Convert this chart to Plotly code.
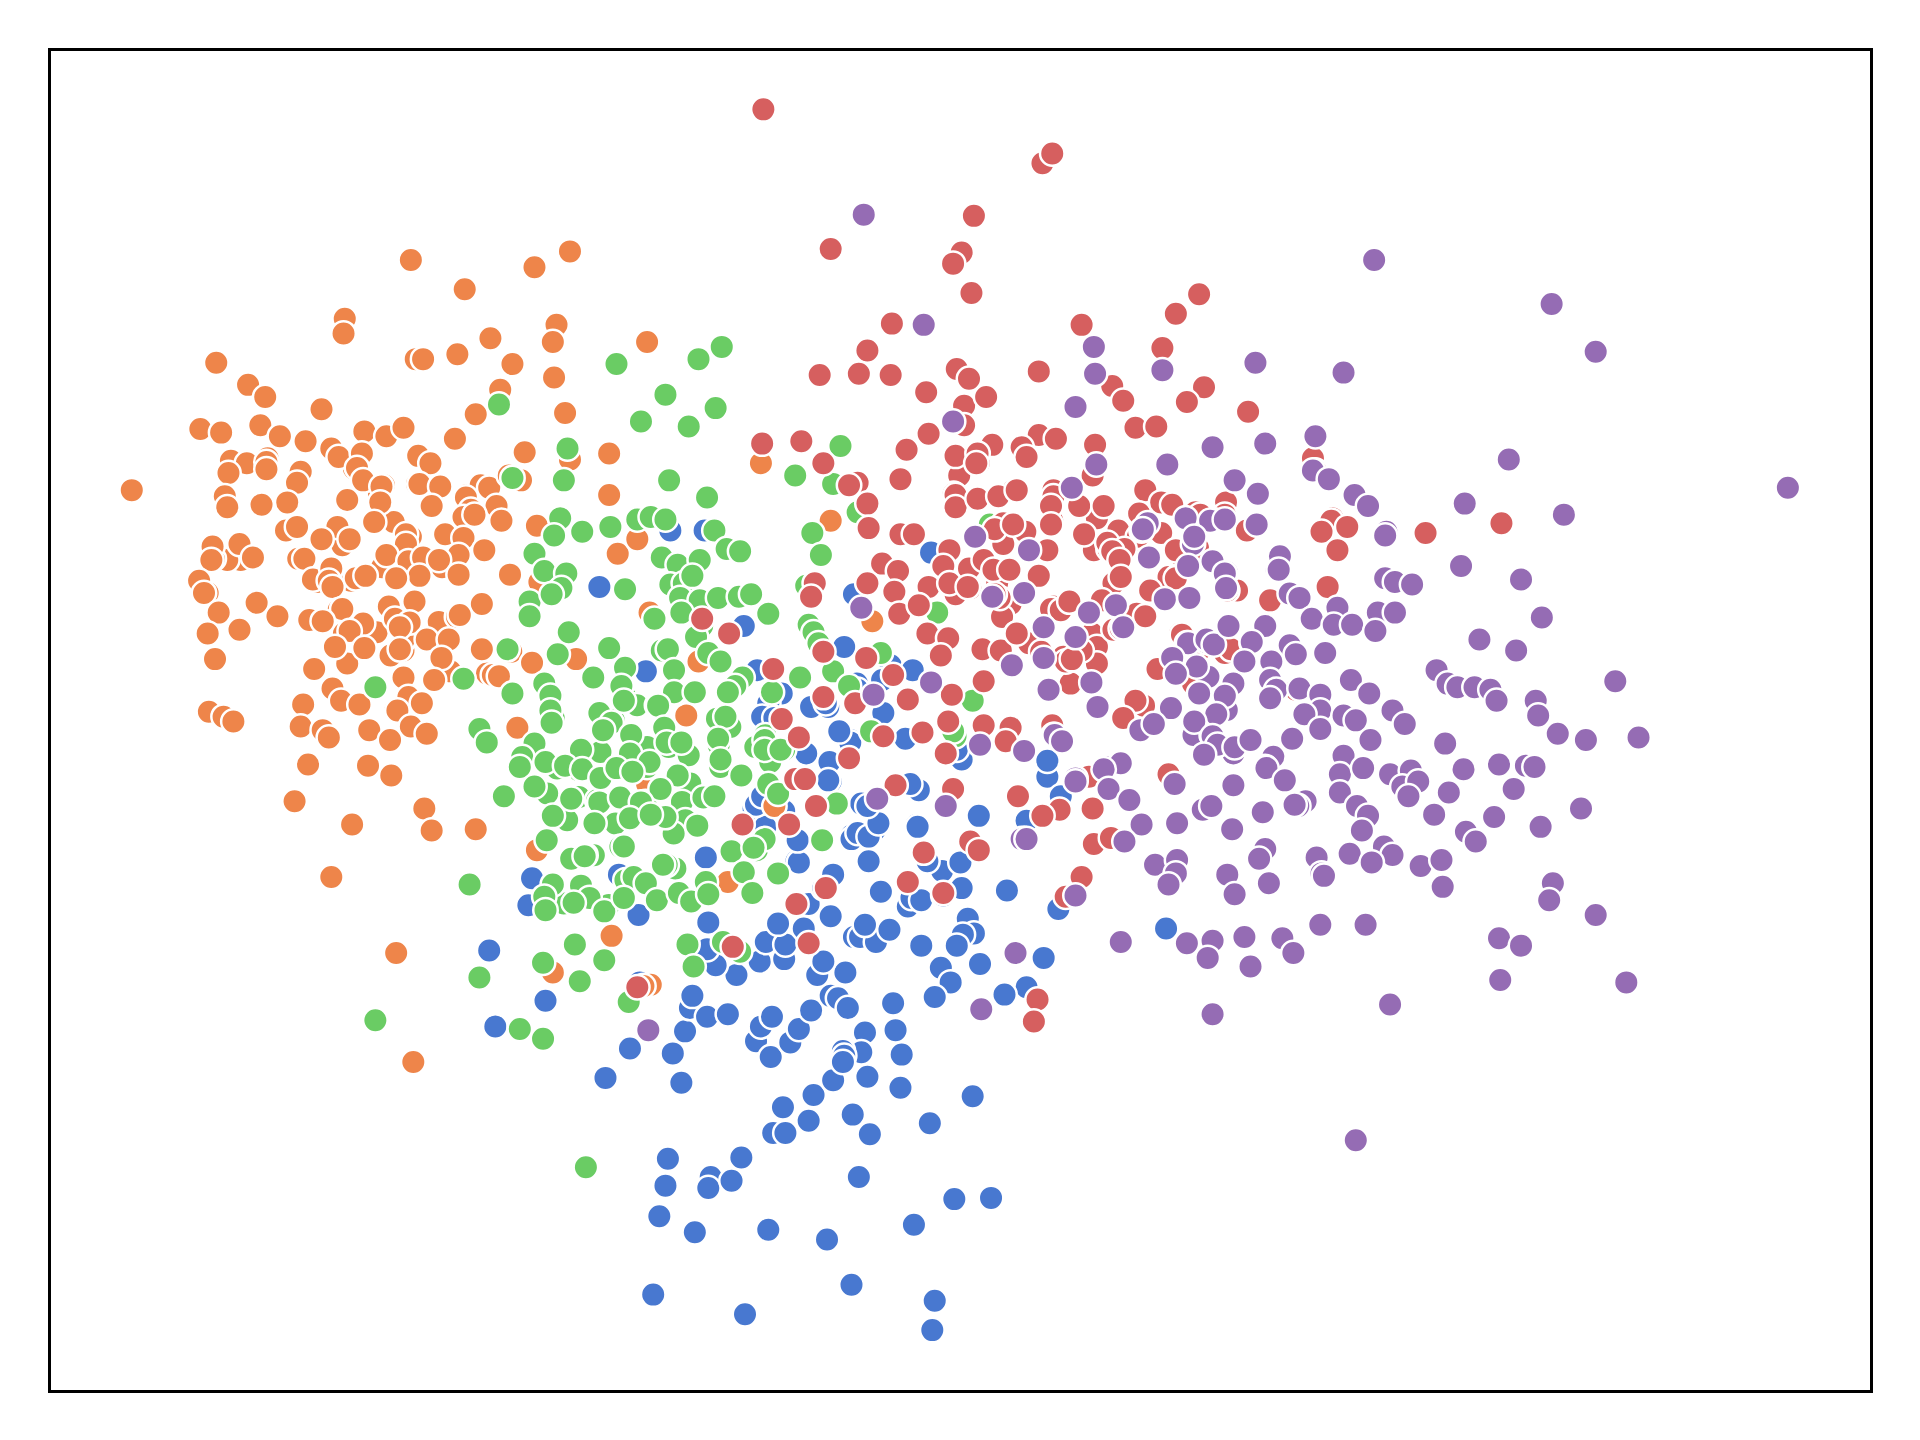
import plotly.graph_objects as go

# Point positions (x, y in picture units)
orange_under = [(200,377),(246,384),(218,374),(288.5,382.4),(313,396),(309,404),(321,426),(286,441),(279,445),(335,438),(346,454.5),(360.5,463),(311.5,463),(286,474),(258.5,475),(292.5,510),(280.3,517),(307,516),(329,531),(329,522.5),(318.4,535),(283,541.6),(367.3,522.5),(357.8,507.6),(372.7,503.5),(359,537.5),(367.3,548),(344,574),(322.4,579.6),(348.3,598.7),(318.4,604),(397.2,549.7),(404,411),(381,404),(391.8,394.7),(425.8,392),(340,371.6),(340,395),(196,457),(185,457),(174,456),(169,484)]

orange = [(107,400),(335,212),(436,218),(465,205),(379,236),(281,260),(280,272),(454,265),(451,279),(528,279),(400,276),(373,289),(339,293),(345,293),(418,297),(176,296),(452,308),(202,314),(216,324),(408,318),(262,334),(461,337),(388,338),(212,347),(163,350),(180,353),(228,356),(249,360),(297,352),(315,356),(329,349),(371,358),(270,366),(276,373),(188,376),(201,378),(217,377),(186,386),(217,383),(245,385),(242,394),(295,370),(291,382),(296,392),(311,397),(341,372),(351,378),(342,395),(359,397),(392,396),(399,398),(415,388),(425,392),(428,369),(497,370),(465,375),(621,378),(497,404),(183,405),(185,414),(213,412),(234,410),(283,408),(310,410),(305,426),(352,413),(380,406),(384,416),(405,413),(378,422),(387,420),(409,425),(438,429),(678,425),(233,433),(242,430),(275,430),(285,440),(262,440),(331,436),(331,444),(363,436),(378,439),(395,449),(173,446),(195,444),(172,457),(206,455),(243,456),(248,456),(315,453),(333,458),(345,455),(374,453),(358,457),(342,470),(374,469),(416,469),(504,452),(520,440),(162,474),(166,484),(255,473),(270,464),(268,474),(271,479),(290,472),(298,470),(323,472),(440,475),(178,500),(209,492),(226,503),(276,498),(279,497),(338,491),(317,495),(393,493),(375,502),(252,506),(263,507),(169,517),(195,514),(296,509),(322,505),(334,508),(285,515),(326,512),(326,530),(348,522),(366,522),(273,528),(297,529),(360,537),(393,530),(417,532),(434,541),(470,538),(175,538),(256,546),(329,553),(354,555),(402,551),(407,552),(271,562),(278,572),(293,575),(247,575),(333,569),(344,574),(324,580),(335,593),(170,581),(182,585),(190,589),(245,593),(263,596),(268,602),(301,596),(318,604),(348,599),(422,594),(251,624),(300,625),(319,633),(240,654),(346,660),(287,673),(352,678),(388,677),(270,716),(438,694),(323,778),(337,867),(451,794),(499,764),(531,804),(525,805),(594,720),(632,658),(560,584),(570,540),(530,500),(712,507),(528,640)]

green_under = [(450.5,567.5),(451.8,586.6),(489.9,581.1),(500.8,588),(510.3,568.9),(519.8,575.7),(536.1,575.7),(551.1,566.2),(585.1,586.6),(596,593.4),(528,609.7),(514.4,616.5),(489.9,613.8),(472.2,628.7),(454.5,627.4),(446.4,647.8),(462.7,669.5),(472.2,650.5),(488.5,635.5),(487.2,653.2),(502.1,672.3),(528,626),(545.7,609.7),(562,616.5),(563.3,639.6),(556.5,654.6),(526.6,654.6),(559.3,669.5),(549.7,680.4),(586.5,608.3),(587.8,626),(624.5,600.2),(628.6,622),(616.4,609.7),(506.2,691.3),(484.5,698.1),(477.7,698.1),(617.7,694),(551.1,709),(536.1,734.8),(510.3,718.5),(460,737.5),(578.3,730.7),(575.6,719.9),(496.7,738.9)]

green = [(589,283),(570,293),(503,297),(543,322),(407,330),(584,333),(523,344),(562,348),(463,366),(686,364),(418,390),(460,392),(546,392),(649,388),(680,395),(577,406),(700,418),(457,423),(520,424),(531,422),(543,424),(475,434),(452,437),(498,430),(583,433),(663,435),(593,448),(604,450),(436,452),(444,466),(462,468),(458,480),(540,455),(553,461),(571,457),(547,477),(670,453),(510,481),(558,476),(565,470),(432,491),(450,485),(432,503),(555,488),(571,490),(586,488),(603,487),(613,485),(627,501),(658,478),(534,505),(556,500),(464,516),(573,511),(660,510),(664,516),(568,520),(668,525),(414,530),(455,534),(497,529),(540,531),(545,530),(578,533),(588,540),(484,553),(510,545),(550,547),(606,553),(600,560),(653,553),(680,548),(719,533),(306,561),(378,554),(418,566),(444,558),(507,560),(509,572),(550,565),(567,565),(594,565),(449,568),(630,565),(537,576),(489,582),(499,590),(449,580),(592,585),(794,572),(450,590),(391,595),(397,606),(492,596),(515,600),(542,594),(544,606),(514,615),(474,612),(436,607),(426,618),(445,622),(556,606),(586,603),(624,604),(640,612),(711,597),(780,601),(424,626),(461,625),(475,628),(490,635),(503,627),(530,622),(553,633),(516,630),(588,620),(605,633),(624,612),(637,612),(627,640),(635,648),(411,650),(436,642),(466,652),(489,655),(506,651),(539,644),(523,655),(574,651),(583,650),(451,666),(485,672),(514,668),(543,667),(569,674),(531,665),(683,656),(446,686),(509,691),(597,695),(624,685),(671,686),(466,701),(477,699),(544,706),(517,716),(527,721),(541,706),(576,720),(615,692),(607,712),(635,713),(383,722),(451,722),(474,723),(481,733),(468,737),(444,732),(445,743),(493,744),(509,733),(536,735),(554,729),(564,736),(578,730),(614,729),(469,771),(561,771),(590,769),(604,777),(443,786),(493,784),(391,798),(473,801),(513,818),(306,833),(424,840),(443,848),(478,953),(566,789),(765,500),(693,560),(808,428),(778,597)]

blue_extra = [(618,547),(638,566),(727,543),(699.4,558),(664,577),(676,577),(721,582),(686,596),(694,604),(678,622),(678,638),(658.6,616),(615,660),(624.6,675),(748,645),(703.4,656),(748,673.5),(695,682),(707.5,682),(714,677.6)]

blue = [(399,776),(404,838),(445,817),(494,880),(514,856),(549,860),(556,884),(545,946),(543,968),(580,961),(578,970),(597,964),(605,945),(631,925),(641,925),(660,915),(639,904),(664,894),(680,882),(696,910),(710,926),(708,879),(735,888),(736,861),(759,917),(794,895),(701,961),(779,979),(809,978),(746,1000),(675,1012),(627,1004),(567,1006),(538,993),(533,1057),(608,1073),(695,1049),(763,1062),(761,1086),(559,842),(563,823),(565,813),(577,830),(594,828),(617,850),(621,838),(630,830),(629,863),(645,851),(652,840),(662,825),(678,813),(684,815),(692,823),(706,843),(731,841),(729,819),(703,859),(688,858),(689,862),(688,867),(667,796),(690,794),(672,785),(601,796),(584,788),(620,785),(640,783),(625,769),(641,771),(635,754),(656,758),(578,753),(577,775),(697,765),(702,765),(715,769),(726,759),(706,755),(678,748),(660,738),(672,725),(680,714),(719,728),(741,740),(744,733),(752,735),(770,731),(785,725),(790,750),(795,762),(786,763),(781,772),(768,790),(800,787),(776,802),(763,814),(752,772),(822,727),(852,782),(838,806),(820,812),(864,742),(952,758),(434,717),(431,739),(505,714),(521,747),(522,802),(576,700),(650,703),(652,704),(651,686),(640,662),(617,657),(622,650),(695,685),(700,680),(709,683),(709,703),(717,672),(703,656),(708,658),(749,675),(750,645),(743,640),(769,711),(784,704),(799,666),(757,703),(855,634),(855,621),(838,670),(836,685),(866,650),(785,620),(781,612),(739,603),(694,606),(685,597),(658,615),(677,622),(676,637),(662,577),(674,574),(627,574),(622,585),(632,586),(700,563),(721,582),(720,555),(745,547),(689,528),(607,511),(527,548),(489,479),(547,433),(575,433),(697,485),(760,451)]

red_under = [(799,378),(783,388),(778.5,403),(827.5,400),(819,427),(819,444),(837,434),(855,449),(814,476),(825,493),(792,480),(791,464),(776,449),(758,479),(749,494),(818,503.5),(830,517),(840,525),(816.6,531),(860,400),(859,425),(902,414),(895.5,423),(893,449),(905,448),(925,444),(929.5,418),(948.5,435.5),(950,411),(976,418),(965,454.5),(954,471),(961,471),(939,482),(909,476),(899.6,490),(860,495),(874,490),(891.4,517),(895.5,528),(868,536),(895.5,541.6),(874,558),(909,514),(928,501),(963.5,517),(944.5,546),(1001.6,530.7),(974,558),(1010,482),(926.8,571.5)]

red = [(623,89),(851,133),(859,125),(795,176),(678,203),(785,206),(778,215),(793,239),(979,240),(960,256),(883,265),(728,264),(949,284),(708,286),(669,306),(701,305),(727,306),(781,301),(791,309),(848,303),(908,315),(917,327),(983,316),(969,328),(756,320),(787,331),(805,324),(1019,336),(927,349),(944,348),(758,354),(740,367),(622,362),(654,360),(672,378),(787,347),(848,355),(862,358),(810,363),(894,363),(780,372),(798,370),(797,378),(834,365),(838,373),(892,388),(735,391),(700,394),(693,396),(708,411),(780,404),(780,414),(798,407),(815,405),(830,400),(935,400),(1072,374),(1074,384),(860,405),(858,413),(881,413),(901,413),(930,419),(948,410),(957,412),(980,420),(1001,410),(1000,420),(1018,433),(1088,423),(1087,425),(1100,430),(1079,434),(1092,449),(1164,435),(1226,427),(709,431),(735,436),(746,436),(812,432),(827,428),(858,428),(885,436),(913,433),(929,438),(948,435),(904,443),(918,448),(908,450),(960,449),(978,447),(720,460),(775,449),(803,457),(770,462),(733,466),(708,476),(665,476),(662,487),(730,483),(780,485),(775,476),(790,479),(811,465),(824,465),(848,470),(914,457),(915,471),(960,472),(1084,479),(1037,490),(734,501),(750,494),(816,488),(812,485),(858,497),(866,498),(873,491),(935,503),(915,513),(573,505),(595,517),(757,517),(774,521),(672,532),(707,537),(802,530),(817,531),(830,517),(883,531),(870,540),(965,518),(1000,533),(980,530),(945,546),(631,546),(729,551),(768,535),(803,556),(850,532),(875,538),(698,574),(672,569),(741,571),(777,567),(934,576),(927,572),(917,586),(638,587),(774,589),(753,598),(721,601),(652,602),(803,592),(825,594),(821,605),(859,592),(772,615),(693,619),(649,636),(657,636),(778,644),(731,641),(954,632),(889,634),(666,658),(606,673),(644,673),(754,696),(792,687),(799,694),(892,660),(865,661),(851,666),(831,650),(893,689),(907,684),(741,720),(770,729),(674,725),(650,738),(883,716),(870,732),(598,773),(660,770),(520,806),(847,816),(844,834),(1058,563),(1002,482),(1005,530)]

purple_under = [(932,433),(990.7,424.6),(974,444),(1001.6,467),(1042.4,465.4),(1053,484.4),(969,525),(982.5,522.5),(985,524),(1022,525),(1053,526.6),(1037,540),(1037,555),(1037,569),(986.6,552.4),(1007,558),(1001.6,579.6),(992,583.7),(974.4,600),(989.3,600),(996,608),(1007,615),(1020.6,604),(1039.6,617.7),(1033,626),(1049,635.4),(943,592),(914.5,622),(902,626),(878,635.4),(868,605.5),(860,600)]

purple = [(705,175),(1122,212),(1267,248),(754,265),(893,283),(1303,287),(949,302),(894,305),(1025,296),(1097,304),(878,332),(778,344),(1074,356),(990,365),(1033,362),(1232,375),(953,379),(895,379),(1072,384),(1085,391),(1460,398),(875,398),(1008,392),(1027,403),(1106,404),(1117,413),(1196,411),(1277,420),(937,427),(968,423),(988,425),(1000,424),(1026,428),(796,438),(933,432),(975,438),(840,449),(938,455),(1045,454),(1044,465),(1132,434),(1131,437),(970,462),(990,458),(1000,468),(1131,472),(1139,475),(1153,477),(1193,462),(1242,473),(836,484),(1001,480),(703,496),(810,487),(951,489),(971,488),(1061,488),(1092,496),(911,494),(889,500),(1071,505),(1125,500),(1139,500),(1089,510),(1104,510),(1123,515),(1259,504),(852,512),(917,512),(878,520),(1033,511),(1022,524),(1208,522),(1238,531),(970,525),(985,522),(991,526),(1003,511),(957,537),(852,537),(826,543),(1016,540),(977,544),(1058,534),(1082,533),(1038,540),(960,550),(856,563),(891,557),(760,557),(713,567),(1173,547),(1182,558),(1190,561),(1204,561),(1217,563),(1037,555),(1042,563),(1061,562),(1078,567),(1103,555),(1118,566),(1319,556),(979,566),(1000,568),(1222,572),(1254,572),(1256,584),(896,577),(956,578),(993,583),(975,589),(1078,580),(1065,583),(1097,584),(1107,588),(1137,580),(1147,591),(931,596),(942,591),(1037,570),(1272,599),(1078,595),(1295,604),(1338,602),(800,608),(836,613),(861,600),(867,605),(990,601),(994,608),(983,616),(1008,610),(1021,604),(1055,603),(1119,604),(1097,617),(1180,607),(1195,628),(915,623),(901,628),(878,638),(905,644),(959,640),(1007,641),(1034,627),(1049,637),(1094,632),(1113,627),(1135,632),(1152,629),(1145,642),(1158,638),(1224,624),(1246,625),(1253,626),(1236,644),(1094,647),(1066,654),(1060,658),(1057,657),(1108,658),(1150,650),(1183,647),(1031,663),(1117,666),(922,653),(772,658),(716,652),(982,661),(989,658),(1291,660),(1220,667),(1258,675),(932,673),(961,672),(1006,677),(1112,678),(1171,665),(1197,679),(1205,687),(834,685),(838,685),(918,687),(1033,693),(1028,701),(1075,700),(1102,697),(1130,691),(1137,698),(1120,704),(1160,707),(1177,702),(1178,724),(943,706),(961,702),(960,713),(1002,714),(1079,713),(1081,715),(1036,721),(1008,730),(1268,721),(954,722),(878,731),(1265,735),(1303,747),(1078,755),(1115,755),(915,769),(969,770),(990,768),(1016,765),(1047,766),(986,782),(1056,778),(1021,789),(1224,766),(1242,772),(1225,800),(1328,802),(829,778),(1135,820),(801,824),(990,828),(529,841),(1107,931)]

series = [("blue", blue_extra + blue, "#4878d0"), ("orange", orange_under + orange, "#ee854a"),
          ("green", green_under + green, "#6acc64"), ("red", red_under + red, "#d65f5f"),
          ("purple", purple_under + purple, "#956cb4")]

fig = go.Figure()
for name, pts, color in series:
    fig.add_trace(go.Scatter(
        x=[p[0] for p in pts], y=[p[1] for p in pts], mode="markers", name=name,
        marker=dict(size=24.5, color=color, line=dict(color="white", width=2.5)),
        cliponaxis=True,
    ))

axis = dict(showticklabels=False, ticks="", showgrid=False, zeroline=False,
            showline=True, mirror=True, linecolor="black", linewidth=3)
fig.update_layout(
    width=1920, height=1440, autosize=False, showlegend=False,
    paper_bgcolor="white", plot_bgcolor="white",
    margin=dict(l=51, r=50, t=51, b=50),
    xaxis=dict(range=[41.0, 1527.1], **axis),
    yaxis=dict(range=[1134.9, 41.35], **axis),
)
fig.write_html("out.html", config={"displayModeBar": False},
               post_script="document.body.style.margin='0';")
